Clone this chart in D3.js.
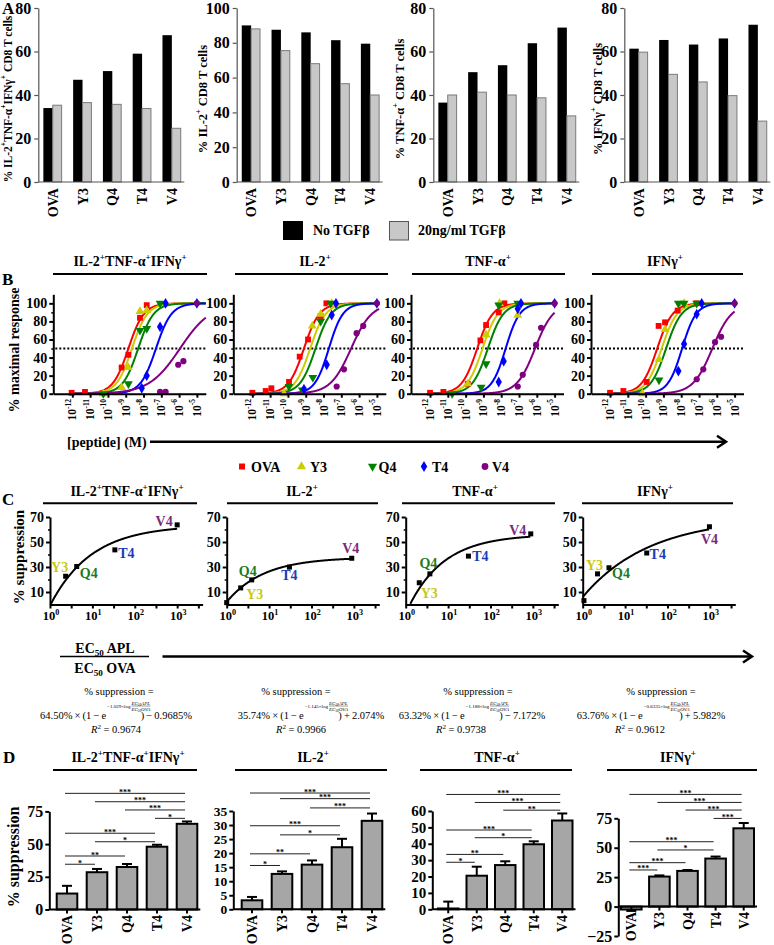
<!DOCTYPE html>
<html><head><meta charset="utf-8">
<script src="https://cdn.jsdelivr.net/npm/d3@7/dist/d3.min.js"></script>
<style>html,body{margin:0;padding:0;background:#fff;}svg{display:block;}</style>
</head>
<body>
<svg id="chart" width="774" height="945"></svg>
<script>
// ================= DATA =================
const peptides = ["OVA", "Y3", "Q4", "T4", "V4"];
const cytokineTitles = ["IL-2^{+}TNF-α^{+}IFNγ^{+}", "IL-2^{+}", "TNF-α^{+}", "IFNγ^{+}"];

// Panel A (% cytokine+ CD8 T cells)
const aNoTGF_triple = [34, 47, 51, 59, 67.5];
const aTGF_triple   = [35.3, 36.5, 35.7, 33.8, 24.7];
const aNoTGF_il2    = [90, 87.5, 86, 81.5, 79.5];
const aTGF_il2      = [88, 75.5, 68, 56.5, 50];
const aNoTGF_tnf    = [36.5, 50.5, 53.7, 63.8, 71];
const aTGF_tnf      = [40, 41.3, 40, 38.7, 30.4];
const aNoTGF_ifn    = [61.3, 65.3, 63.2, 66, 72.3];
const aTGF_ifn      = [59.7, 49.5, 46, 39.7, 28];
const aYMax = [80, 100, 80, 80];
const aYTicks = [[0,20,40,60,80],[0,20,40,60,80,100],[0,20,40,60,80],[0,20,40,60,80]];
const aYTitles = ["% IL-2^{+}TNF-α^{+}IFNγ^{+} CD8 T cells", "% IL-2^{+} CD8 T cells", "% TNF-α^{+} CD8 T cells", "% IFNγ^{+} CD8 T cells"];
const aLegend = ["No TGFβ", "20ng/ml TGFβ"];

// Panel B (dose response, log10 [peptide] M, % maximal response)
const bXTicks = [-12, -11, -10, -9, -8, -7, -6, -5];
const bYTicks = [0, 20, 40, 60, 80, 100];
const bPts_triple = [
  [[-12.04,1],[-11.29,2],[-9.23,29],[-8.85,43],[-8.2,84],[-7.82,98]],
  [[-10.26,0],[-9.23,7],[-8.85,29],[-8.2,91],[-7.82,92]],
  [[-10.26,0],[-8.85,11],[-8.2,70],[-7.82,72],[-7.07,100]],
  [[-8.1,6],[-7.82,20],[-7.07,74],[-6.76,100],[-5,100]],
  [[-7.07,2],[-6.76,2],[-6.05,32],[-5.76,36],[-5,100]]
];
const bPts_il2 = [
  [[-12,1],[-11.25,3],[-10.93,6],[-9.94,13],[-9.34,41],[-8.87,60],[-8.16,86],[-7.84,100]],
  [[-10.22,0],[-8.63,75],[-8.16,88],[-7.54,100]],
  [[-9.94,8],[-9.19,4],[-8.6,18],[-8.16,80],[-7.6,100]],
  [[-9.1,5],[-7.82,32],[-7.54,87],[-7.3,100],[-5,100]],
  [[-7.26,8],[-6.85,27],[-6.14,67],[-5.77,75],[-5,100]]
];
const bPts_tnf = [
  [[-12,1],[-11.25,2],[-9.88,11],[-9.17,59],[-8.85,76],[-8.14,90],[-7.82,100]],
  [[-9.88,11],[-8.85,65],[-8.1,100],[-7.07,87]],
  [[-10.76,0],[-9.13,7],[-8.85,33],[-8.14,98],[-7.07,100]],
  [[-8.14,13],[-7.86,36],[-7.07,94],[-6.89,100],[-5,100]],
  [[-7.07,8],[-6.79,21],[-6.04,54],[-5.76,73],[-5,100]]
];
const bPts_ifn = [
  [[-12,1],[-11.25,3],[-9.94,13],[-9.27,75],[-8.91,79],[-8.2,92],[-7.13,100]],
  [[-10.18,0],[-9.25,38],[-8.91,71],[-7.84,100]],
  [[-9.25,15],[-8.16,100],[-7.84,100],[-7.13,100]],
  [[-8.16,25],[-7.84,55],[-7.13,88],[-6.85,100],[-5,100]],
  [[-7.13,16],[-6.76,27],[-6.1,57],[-5.76,63],[-5,100]]
];
const bEC50_triple = [-8.85, -8.65, -8.3, -7.3, -5.95];
const bHill_triple = [1, 1, 1, 1, 0.5];
const bEC50_il2 = [-9.1, -8.75, -8.45, -7.7, -6.45];
const bHill_il2 = [1, 1, 1, 1.1, 0.75];
const bEC50_tnf = [-9.35, -9.05, -8.75, -7.75, -6.1];
const bHill_tnf = [1, 1, 1, 1.1, 0.85];
const bEC50_ifn = [-9.35, -9.1, -8.85, -7.95, -6.25];
const bHill_ifn = [1, 1, 1, 1.1, 0.8];
const bCurveStart = [-12.1, -12.1, -12.1, -12.1];
const bCurveEnd = [-4.5, -4.88, -5, -5];

// Panel C (% suppression vs EC50 APL / EC50 OVA)
const cRatio_triple = [1, 2.34, 4.27, 33.9, 1000];
const cSupp_triple  = [null, 22.6, 30.4, 43.7, 63.7];
const cRatio_il2 = [1, 2.14, 3.89, 30.2, 891];
const cSupp_il2  = [1.5, 13.3, 19.7, 29.9, 37];
const cRatio_tnf = [1, 2.09, 3.72, 30.2, 891];
const cSupp_tnf  = [null, 17.4, 24.5, 38.7, 56.5];
const cRatio_ifn = [1.07, 2.24, 4.17, 32.4, 977];
const cSupp_ifn  = [3.1, 24.5, 29.4, 41.2, 62.2];
const cFitTop = [64.50, 35.74, 63.32, 63.76];
const cFitK = [1.029, 1.145, 1.188, 0.6335];
const cFitOffset = [-0.9685, 2.074, -7.172, 5.982];
const cR2 = [0.9674, 0.9966, 0.9738, 0.9612];
const cXTicks = [1, 10, 100, 1000];
const cYTicks = [10, 30, 50, 70];

// Panel D (% suppression bars, mean and SEM)
const dMean_triple = [12.2, 28.5, 32.5, 48, 65.5];
const dErr_triple  = [5.9, 2.5, 2.3, 1.5, 1.8];
const dMean_il2 = [3.2, 12.6, 15.9, 22.1, 31.5];
const dErr_il2  = [1.2, 0.9, 1.5, 3.0, 2.6];
const dMean_tnf = [0.5, 20.5, 27, 39.7, 54.2];
const dErr_tnf  = [4.2, 5.5, 2.3, 1.8, 4.3];
const dMean_ifn = [-2.5, 25.5, 30.3, 40.8, 66.5];
const dErr_ifn  = [1.2, 1.0, 0.8, 1.7, 4.5];
const dYDomain = [[0,75],[0,35],[0,60],[-25,75]];
const dYTicks = [[0,25,50,75],[0,5,10,15,20,25,30,35],[0,10,20,30,40,50,60],[-25,0,25,50,75]];
const dSig_triple = [[0,4,"***"],[1,4,"***"],[2,4,"***"],[3,4,"*"],[0,3,"***"],[1,3,"*"],[0,2,"**"],[0,1,"*"]];
const dSigLevel_triple = [88.8, 82.4, 76.1, 69.7, 58.3, 51.8, 40.9, 34.6];
const dSig_il2 = [[0,4,"***"],[1,4,"***"],[2,4,"***"],[0,3,"***"],[1,3,"*"],[0,2,"**"],[0,1,"*"]];
const dSigLevel_il2 = [41.4, 39.4, 36.1, 29.75, 26.5, 19.75, 15.6];
const dSig_tnf = [[0,4,"***"],[1,4,"***"],[2,4,"**"],[0,3,"***"],[1,3,"*"],[0,2,"**"],[0,1,"*"]];
const dSigLevel_tnf = [70.1, 65.2, 60.5, 48.4, 43.7, 33.5, 28.7];
const dSig_ifn = [[0,4,"***"],[1,4,"***"],[2,4,"***"],[3,4,"***"],[0,3,"***"],[1,3,"*"],[0,2,"***"],[0,1,"***"]];
const dSigLevel_ifn = [95.3, 88.5, 82, 74.9, 55.1, 48.1, 37.3, 31.1];

// ================= STYLE / LAYOUT =================
const FONT = '"Liberation Serif","Times New Roman",Times,serif';
const pepColors = ["#ff0000", "#cccc00", "#008000", "#0000ff", "#800080"];
const cLabelColors = ["#000", "#c8c814", "#1e7b1e", "#1c3cb4", "#7b2a7b"];
const symbolTypes = [d3.symbolSquare, d3.symbolTriangle, d3.symbolTriangle, d3.symbolDiamond, d3.symbolCircle];
const symbolRot = [0, 0, 180, 0, 0];

const svg = d3.select("#chart").attr("font-family", FONT);

function rich(sel, str, fs) {
  const parts = str.split(/(\^\{[^}]*\}|_\{[^}]*\})/).filter(p => p.length);
  let shift = 0;
  parts.forEach(p => {
    let target = 0, t = p, size = fs;
    if (p.startsWith("^{")) { target = -fs * 0.4; t = p.slice(2, -1); size = +(fs * 0.65).toFixed(1); }
    else if (p.startsWith("_{")) { target = fs * 0.22; t = p.slice(2, -1); size = +(fs * 0.65).toFixed(1); }
    sel.append("tspan").attr("dy", target - shift).attr("font-size", size).text(t);
    shift = target;
  });
  return sel;
}
function txt(parent, x, y, str, fs, o = {}) {
  const t = parent.append("text").attr("x", x).attr("y", y).attr("font-size", fs)
    .attr("font-weight", o.weight || "bold").attr("text-anchor", o.anchor || "start")
    .attr("fill", o.fill || "#000");
  if (o.rotate) t.attr("transform", `rotate(${o.rotate},${x},${y})`);
  if (o.baseline) t.attr("dominant-baseline", o.baseline);
  if (o.style) t.attr("font-style", o.style);
  rich(t, str, fs);
  return t;
}
function styleAxis(g, fs, sw, col) {
  g.attr("font-family", FONT);
  g.select(".domain").attr("stroke", col).attr("stroke-width", sw);
  g.selectAll(".tick line").attr("stroke", col).attr("stroke-width", sw);
  g.selectAll(".tick text").attr("font-size", fs).attr("font-weight", "bold").attr("fill", "#000");
}
function hline(x1, x2, y, sw) {
  svg.append("line").attr("x1", x1).attr("x2", x2).attr("y1", y).attr("y2", y)
    .attr("stroke", "#000").attr("stroke-width", sw);
}
function arrow(x1, x2, y) {
  hline(x1, x2, y, 2.5);
  svg.append("path").attr("d", `M${x2 - 9},${y - 6}L${x2},${y}L${x2 - 9},${y + 6}`)
    .attr("fill", "none").attr("stroke", "#000").attr("stroke-width", 2.5);
}

// Panel letters
txt(svg, 2, 14, "A", 17);
txt(svg, 2, 285, "B", 17);
txt(svg, 2, 505, "C", 17);
txt(svg, 3, 763, "D", 17);

// ================= PANEL A =================
const aNo = [aNoTGF_triple, aNoTGF_il2, aNoTGF_tnf, aNoTGF_ifn];
const aTgf = [aTGF_triple, aTGF_il2, aTGF_tnf, aTGF_ifn];
const aAxisX = [38.3, 236.7, 433.3, 624.3];
const aTitleX = [8, 203, 400, 598];
const aTitleFs = [11.5, 12.5, 12.5, 12.5];
aNo.forEach((no, i) => {
  const ax = aAxisX[i];
  const x = d3.scaleBand().domain(peptides).range([ax, ax + 148]).paddingInner(0.37).paddingOuter(0.17);
  const sub = d3.scaleBand().domain([0, 1]).range([0, x.bandwidth()]);
  const y = d3.scaleLinear().domain([0, aYMax[i]]).range([182, 8]);
  const g = svg.append("g");
  g.selectAll("rect.no").data(no).join("rect").attr("class", "no")
    .attr("x", (d, j) => x(peptides[j]) + sub(0)).attr("y", d => y(d))
    .attr("width", sub.bandwidth()).attr("height", d => y(0) - y(d)).attr("fill", "#000");
  g.selectAll("rect.tgf").data(aTgf[i]).join("rect").attr("class", "tgf")
    .attr("x", (d, j) => x(peptides[j]) + sub(1)).attr("y", d => y(d))
    .attr("width", sub.bandwidth() - 0.5).attr("height", d => y(0) - y(d))
    .attr("fill", "#c8c8c8").attr("stroke", "#7a7a7a").attr("stroke-width", 1);
  const ya = svg.append("g").attr("transform", `translate(${ax},0)`)
    .call(d3.axisLeft(y).tickValues(aYTicks[i]).tickSize(4).tickSizeOuter(0).tickPadding(3));
  styleAxis(ya, 16, 1.2, "#555");
  svg.append("line").attr("x1", ax).attr("x2", ax + 146).attr("y1", y(0)).attr("y2", y(0))
    .attr("stroke", "#555").attr("stroke-width", 1.2);
  peptides.forEach(p => txt(svg, x(p) + x.bandwidth() / 2, 188, p, 14, {anchor: "end", rotate: -90, baseline: "central"}));
  txt(svg, aTitleX[i], 99, aYTitles[i], aTitleFs[i], {anchor: "middle", rotate: -90, baseline: "central"});
});
// Legend A
svg.append("rect").attr("x", 283).attr("y", 221).attr("width", 20).attr("height", 19).attr("fill", "#000");
txt(svg, 313, 235, aLegend[0], 14);
svg.append("rect").attr("x", 389.5).attr("y", 221.5).attr("width", 19).attr("height", 18.5)
  .attr("fill", "#c8c8c8").attr("stroke", "#555").attr("stroke-width", 1);
txt(svg, 418, 235, aLegend[1], 14);

// ================= PANEL B =================
const bPts = [bPts_triple, bPts_il2, bPts_tnf, bPts_ifn];
const bEC50 = [bEC50_triple, bEC50_il2, bEC50_tnf, bEC50_ifn];
const bHill = [bHill_triple, bHill_il2, bHill_tnf, bHill_ifn];
const bAxisX = [53.3, 233.3, 411, 591];
const bTitleX = [130, 315, 488, 665];
const bTitleLine = [[53, 207], [235, 388], [412, 565], [592, 743]];
bPts.forEach((pts, i) => {
  const ax = bAxisX[i];
  txt(svg, bTitleX[i], 266, cytokineTitles[i], 14, {anchor: "middle"});
  hline(bTitleLine[i][0], bTitleLine[i][1], 274, 2);
  const x = d3.scaleLinear().domain([-13.07, -4.5]).range([ax, ax + 152.5]);
  const y = d3.scaleLinear().domain([0, 110]).range([393.7, 294.3]);
  svg.append("line").attr("x1", ax + 2).attr("x2", ax + 152).attr("y1", y(50)).attr("y2", y(50))
    .attr("stroke", "#000").attr("stroke-width", 2).attr("stroke-dasharray", "2,2");
  const line = d3.line().x(d => x(d[0])).y(d => y(d[1]));
  peptides.forEach((p, j) => {
    const xs = d3.range(bCurveStart[i], bCurveEnd[i] + 1e-9, 0.02);
    const curve = xs.map(v => [v, 100 / (1 + Math.pow(10, (bEC50[i][j] - v) * bHill[i][j]))]);
    svg.append("path").attr("d", line(curve)).attr("fill", "none")
      .attr("stroke", pepColors[j]).attr("stroke-width", 2);
  });
  pts.forEach((arr, j) => {
    const sym = d3.symbol().type(symbolTypes[j]).size(j === 4 ? 30 : 34);
    svg.append("g").selectAll("path").data(arr).join("path")
      .attr("d", sym)
      .attr("transform", d => `translate(${x(d[0])},${y(d[1])}) rotate(${symbolRot[j]})`)
      .attr("fill", pepColors[j]);
  });
  const ya = svg.append("g").attr("transform", `translate(${ax},0)`)
    .call(d3.axisLeft(y).tickValues(bYTicks).tickSize(4).tickSizeOuter(0).tickPadding(2));
  styleAxis(ya, 14, 2, "#000");
  svg.append("g").attr("transform", `translate(${ax},0)`)
    .call(d3.axisLeft(y).tickValues([10, 30, 50, 70, 90]).tickSize(2).tickFormat(""))
    .call(g => { g.select(".domain").remove(); g.selectAll("line").attr("stroke-width", 1.5); });
  const xa = svg.append("g").attr("transform", `translate(0,${y(0)})`)
    .call(d3.axisBottom(x).tickValues(bXTicks).tickSize(4).tickSizeOuter(0).tickFormat(""));
  styleAxis(xa, 11, 2, "#000");
  bXTicks.forEach(v => txt(svg, x(v), 399, "10^{" + v + "}", 11.5, {anchor: "end", rotate: -90, baseline: "central"}));
});
txt(svg, 14, 350, "% maximal response", 14, {anchor: "middle", rotate: -90, baseline: "central"});
txt(svg, 67, 446.5, "[peptide] (M)", 14);
arrow(150, 726, 441.7);
const bLegX = [242, 301.5, 372.5, 424, 485];
const bLegTx = [251, 310, 378.5, 432, 492];
peptides.forEach((p, j) => {
  svg.append("path").attr("d", d3.symbol().type(symbolTypes[j]).size(36)())
    .attr("transform", `translate(${bLegX[j]},466.5) rotate(${symbolRot[j]})`).attr("fill", pepColors[j]);
  txt(svg, bLegTx[j], 472, p, 14);
});

// ================= PANEL C =================
const cRatio = [cRatio_triple, cRatio_il2, cRatio_tnf, cRatio_ifn];
const cSupp = [cSupp_triple, cSupp_il2, cSupp_tnf, cSupp_ifn];
const cAxisX = [50, 226.7, 405.7, 582.7];
const cTitleX = [127, 302, 475, 655];
const cTitleLine = [[43, 197], [227, 378], [402, 555], [582, 733]];
const cLabelOff = [
  [null, [-6, -9], [12, 6], [11.5, 3], [-13, -4]],
  [null, [14, 6], [-4, -9], [0, 7.5], [-1, -10]],
  [null, [10, 10], [-1.5, -11], [12, 0], [-13, -4]],
  [null, [-3, -9], [12, 5], [11, 1], [0, 12]]
];
cRatio.forEach((rat, i) => {
  const ax = cAxisX[i];
  txt(svg, cTitleX[i], 496, cytokineTitles[i], 14, {anchor: "middle"});
  hline(cTitleLine[i][0], cTitleLine[i][1], 503.3, 2);
  const x = d3.scaleLog().domain([1, Math.pow(10, 3.6)]).range([ax, ax + 152.6]);
  const y = d3.scaleLinear().domain([0, 70]).range([604.5, 517]);
  const Lmax = Math.log10(rat[4]);
  const curve = d3.range(0, Lmax + 1e-9, 0.01)
    .map(L => [Math.pow(10, L), cFitTop[i] * (1 - Math.exp(-cFitK[i] * L)) + cFitOffset[i]])
    .filter(d => d[1] >= 0);
  svg.append("path").attr("d", d3.line().x(d => x(d[0])).y(d => y(d[1]))(curve))
    .attr("fill", "none").attr("stroke", "#000").attr("stroke-width", 2);
  const ya = svg.append("g").attr("transform", `translate(${ax},0)`)
    .call(d3.axisLeft(y).tickValues(cYTicks).tickSize(4).tickSizeOuter(0).tickPadding(2));
  styleAxis(ya, 14, 2, "#000");
  svg.append("g").attr("transform", `translate(${ax},0)`)
    .call(d3.axisLeft(y).tickValues([20, 40, 60]).tickSize(2).tickFormat(""))
    .call(g => { g.select(".domain").remove(); g.selectAll("line").attr("stroke-width", 1.5); });
  const xa = svg.append("g").attr("transform", `translate(0,${y(0)})`)
    .call(d3.axisBottom(x).tickValues(d3.range(0, 3.51, 0.5).map(e => Math.pow(10, e))).tickSize(4).tickSizeOuter(0).tickFormat(""));
  styleAxis(xa, 12, 2, "#000");
  cXTicks.forEach(v => txt(svg, x(v) + 1, 620, "10^{" + Math.round(Math.log10(v)) + "}", 12.5, {anchor: "middle"}));
  rat.forEach((r, j) => {
    const s = cSupp[i][j];
    if (s === null) return;
    svg.append("rect").attr("x", x(r) - 2.5).attr("y", y(s) - 2.5).attr("width", 5).attr("height", 5).attr("fill", "#000");
    const off = cLabelOff[i][j];
    if (off) txt(svg, x(r) + off[0], y(s) + off[1], peptides[j], 14, {anchor: "middle", baseline: "central", fill: cLabelColors[j]});
  });
});
txt(svg, 19, 557, "% suppression", 15, {anchor: "middle", rotate: -90, baseline: "central"});
txt(svg, 105, 653, "EC_{50} APL", 14, {anchor: "middle"});
hline(60, 149, 656.5, 1.5);
txt(svg, 105, 673, "EC_{50} OVA", 14, {anchor: "middle"});
arrow(162.5, 752, 656.5);

// Equations
const eqCx = [116, 311, 472, 651];
const psCx = [119, 296, 478, 661];
const r2Cx = [116, 301, 461, 640];
cFitTop.forEach((A, i) => {
  txt(svg, psCx[i], 695, "% suppression =", 10.5, {anchor: "middle", weight: "normal"});
  const g = svg.append("g").attr("font-weight", "normal");
  const t1 = g.append("text").attr("x", 0).attr("y", 0).attr("font-size", 10.5)
    .text(`${A.toFixed(2)}%\u2009×\u2009(1\u2009−\u2009e`);
  const w1 = t1.node().getComputedTextLength();
  const e1 = g.append("text").attr("x", w1 + 1).attr("y", -11.5).attr("font-size", 5).text(`−${cFitK[i]}×log`);
  const we = e1.node().getComputedTextLength();
  const fx = w1 + 2 + we;
  const num = rich(g.append("text").attr("x", fx).attr("y", -14.5).attr("font-size", 5).attr("font-style", "italic"), "EC_{50}APL", 5);
  const den = rich(g.append("text").attr("x", fx).attr("y", -8.5).attr("font-size", 5).attr("font-style", "italic"), "EC_{50}OVA", 5);
  const fw = Math.max(num.node().getComputedTextLength(), den.node().getComputedTextLength());
  g.append("line").attr("x1", fx).attr("x2", fx + fw).attr("y1", -13).attr("y2", -13).attr("stroke", "#000").attr("stroke-width", 0.4);
  const x3 = w1 + 0.78 * (we + fw + 2);
  const sign = cFitOffset[i] < 0 ? "\u2009−\u2009" : "\u2009+\u2009";
  const t3 = g.append("text").attr("x", x3).attr("y", 0).attr("font-size", 10.5)
    .text(`)${sign}${Math.abs(cFitOffset[i])}%`);
  const total = x3 + t3.node().getComputedTextLength();
  g.attr("transform", `translate(${eqCx[i] - total / 2},719)`);
  const r = svg.append("text").attr("x", r2Cx[i]).attr("y", 733).attr("text-anchor", "middle").attr("font-size", 10.5);
  r.append("tspan").attr("font-style", "italic").text("R");
  r.append("tspan").attr("dy", -4).attr("font-size", 7).text("2");
  r.append("tspan").attr("dy", 4).text(` = ${cR2[i]}`);
});

// ================= PANEL D =================
const dMean = [dMean_triple, dMean_il2, dMean_tnf, dMean_ifn];
const dErr = [dErr_triple, dErr_il2, dErr_tnf, dErr_ifn];
const dSig = [dSig_triple, dSig_il2, dSig_tnf, dSig_ifn];
const dSigLevel = [dSigLevel_triple, dSigLevel_il2, dSigLevel_tnf, dSigLevel_ifn];
const dAxisX = [49.3, 233.3, 432.3, 618.3];
const dBarX0 = [56.7, 241.7, 438, 621];
const dStep = [30, 30, 28.5, 28.1];
const dBw = [20.6, 20.6, 20.5, 20.6];
const dYRange = [[909.5, 811.4], [909.3, 811], [909.3, 811], [936, 818.3]];
const dTickFs = [16, 13.5, 15, 16];
const dTitleX = [128, 313, 497, 678];
const dTitleLine = [[53, 197], [235, 387], [420, 572], [607, 757]];
const dLabelY = [915, 915, 915, 912];
dMean.forEach((mean, i) => {
  const ax = dAxisX[i];
  txt(svg, dTitleX[i], 762, cytokineTitles[i], 14, {anchor: "middle"});
  hline(dTitleLine[i][0], dTitleLine[i][1], 770, 2);
  const x = d3.scaleBand().domain(peptides)
    .range([dBarX0[i], dBarX0[i] + dStep[i] * 4 + dBw[i]])
    .paddingInner(1 - dBw[i] / dStep[i]).paddingOuter(0);
  const y = d3.scaleLinear().domain(dYDomain[i]).range(dYRange[i]);
  const bw = x.bandwidth();
  mean.forEach((m, j) => {
    const cx = x(peptides[j]) + bw / 2;
    const e = m >= 0 ? m + dErr[i][j] : m - dErr[i][j];
    svg.append("line").attr("x1", cx).attr("x2", cx).attr("y1", y(m)).attr("y2", y(e)).attr("stroke", "#000").attr("stroke-width", 2);
    svg.append("line").attr("x1", cx - 5).attr("x2", cx + 5).attr("y1", y(e)).attr("y2", y(e)).attr("stroke", "#000").attr("stroke-width", 2);
  });
  svg.append("g").selectAll("rect").data(mean).join("rect")
    .attr("x", (d, j) => x(peptides[j])).attr("width", bw)
    .attr("y", d => y(Math.max(0, d))).attr("height", d => Math.abs(y(d) - y(0)))
    .attr("fill", "#a6a6a6").attr("stroke", "#000").attr("stroke-width", 2);
  const ya = svg.append("g").attr("transform", `translate(${ax},0)`)
    .call(d3.axisLeft(y).tickValues(dYTicks[i]).tickSize(4).tickSizeOuter(0).tickPadding(2));
  styleAxis(ya, dTickFs[i], 2, "#000");
  const xEnd = dBarX0[i] + dStep[i] * 4 + dBw[i] + 3;
  hline(ax, xEnd, y(0), 2);
  peptides.forEach(p => {
    const cx = x(p) + bw / 2;
    svg.append("line").attr("x1", cx).attr("x2", cx).attr("y1", y(0)).attr("y2", y(0) + 4).attr("stroke", "#000").attr("stroke-width", 2);
  });
  peptides.forEach(p => txt(svg, x(p) + bw / 2, dLabelY[i], p, 14, {anchor: "end", rotate: -90, baseline: "central"}));
  dSig[i].forEach(([a, b, s], k) => {
    const yy = y(dSigLevel[i][k]);
    const x1 = x(peptides[a]) + bw / 2 - 2, x2 = x(peptides[b]) + bw / 2 - 2;
    svg.append("line").attr("x1", x1).attr("x2", x2).attr("y1", yy).attr("y2", yy).attr("stroke", "#222").attr("stroke-width", 1);
    svg.append("text").attr("x", (x1 + x2) / 2).attr("y", yy + 1.5).attr("text-anchor", "middle")
      .attr("font-size", 8).attr("font-weight", "bold").text(s);
  });
});
txt(svg, 13, 857, "% suppression", 16, {anchor: "middle", rotate: -90, baseline: "central"});
</script>
</body></html>
